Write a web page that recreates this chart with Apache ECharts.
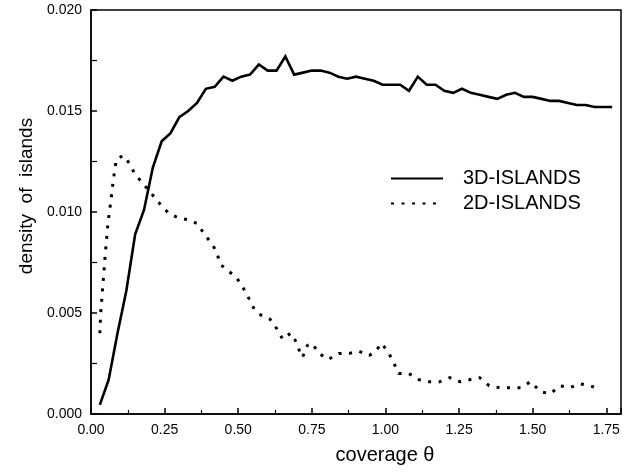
<!DOCTYPE html>
<html>
<head>
<meta charset="utf-8">
<script src="https://cdn.jsdelivr.net/npm/echarts@6/dist/echarts.min.js"></script>
<style>html,body{margin:0;padding:0;background:#fff;}#c{width:641px;height:472px;}</style>
</head>
<body>
<div id="c"></div>
<script>
// 3D islands: coverage values and densities
const cov3D = [0.03,0.06,0.09,0.12,0.15,0.18,0.21,0.24,0.27,0.30,0.33,0.36,0.39,0.42,0.45,0.48,0.51,0.54,0.57,0.60,
  0.63,0.66,0.69,0.72,0.75,0.78,0.81,0.84,0.87,0.90,0.93,0.96,0.99,1.02,1.05,1.08,1.11,1.14,1.17,1.20,
  1.23,1.26,1.29,1.32,1.35,1.38,1.41,1.44,1.47,1.50,1.53,1.56,1.59,1.62,1.65,1.68,1.71,1.74,1.77];
const dens3D = [0.00045,0.0017,0.0040,0.0061,0.0089,0.0101,0.0122,0.0135,0.0139,0.0147,0.0150,0.0154,0.0161,0.0162,0.0167,0.0165,0.0167,0.0168,0.0173,0.0170,
  0.0170,0.0177,0.0168,0.0169,0.0170,0.0170,0.0169,0.0167,0.0166,0.0167,0.0166,0.0165,0.0163,0.0163,0.0163,0.0160,0.0167,0.0163,0.0163,0.0160,
  0.0159,0.0161,0.0159,0.0158,0.0157,0.0156,0.0158,0.0159,0.0157,0.0157,0.0156,0.0155,0.0155,0.0154,0.0153,0.0153,0.0152,0.0152,0.0152];
// 2D islands
const cov2D = [0.030,0.033,0.041,0.049,0.058,0.067,0.075,0.086,0.109,0.131,0.148,0.177,0.206,0.234,0.266,0.300,0.336,0.364,0.384,0.413,
  0.429,0.440,0.464,0.492,0.515,0.537,0.554,0.577,0.608,0.632,0.651,0.678,0.692,0.706,0.718,0.735,0.751,0.774,0.806,0.842,
  0.877,0.911,0.945,0.966,0.987,1.012,1.029,1.045,1.080,1.114,1.148,1.185,1.219,1.253,1.286,1.320,1.352,1.388,1.425,1.459,
  1.493,1.527,1.560,1.592,1.626,1.660,1.696,1.730];
const dens2D = [0.0040,0.0050,0.0065,0.0080,0.0095,0.0105,0.0115,0.0126,0.0128,0.0124,0.0119,0.0114,0.0109,0.0104,0.0099,0.0097,0.0096,0.0094,0.0089,0.0084,
  0.0079,0.0074,0.0071,0.0068,0.0063,0.0057,0.0052,0.0049,0.0047,0.0042,0.0037,0.0040,0.0037,0.0032,0.0028,0.0034,0.0035,0.0030,0.0027,0.0030,
  0.0030,0.0031,0.0029,0.0031,0.0035,0.0030,0.0025,0.0020,0.0020,0.0017,0.0016,0.0016,0.0018,0.0016,0.0017,0.0018,0.0014,0.0013,0.0013,0.0013,
  0.0016,0.0011,0.0010,0.0014,0.0013,0.0015,0.0014,0.0012];
const seriesNames = ['3D-ISLANDS','2D-ISLANDS'];
const xTitle = 'coverage θ';
const yTitle = 'density  of  islands';

const FONT = '"Liberation Sans", Arial, Helvetica, sans-serif';
const chart = echarts.init(document.getElementById('c'), null, {renderer:'canvas'});
chart.setOption({
  animation:false,
  backgroundColor:'#fff',
  grid:{left:91, top:10, right:20, bottom:58, show:true, borderColor:'#000', borderWidth:1.5, backgroundColor:'transparent'},
  legend:{
    show:true, orient:'vertical', left:390, top:168.5, padding:0, itemWidth:52, itemHeight:14, itemGap:5,
    itemStyle:{color:'transparent', borderColor:'transparent', borderWidth:0, opacity:0},
    textStyle:{fontFamily:FONT, fontSize:20, color:'#000', padding:[0,0,0,15]},
    data:seriesNames
  },
  xAxis:{
    type:'value', min:0, max:1.8, interval:0.25,
    name:xTitle, nameLocation:'middle', nameGap:31,
    nameTextStyle:{fontFamily:FONT, fontSize:20, color:'#000', padding:[0,0,0,58]},
    axisLine:{show:true, lineStyle:{color:'#000', width:1.5}},
    axisTick:{show:true, inside:true, length:6, lineStyle:{color:'#000', width:1.5}},
    minorTick:{show:true, splitNumber:2, length:4, lineStyle:{color:'#000', width:1.2}},
    splitLine:{show:false},
    axisLabel:{fontFamily:FONT, fontSize:14, color:'#000', margin:9, showMaxLabel:false,
      formatter:v=>v.toFixed(2)}
  },
  yAxis:{
    type:'value', min:0, max:0.02, interval:0.005,
    name:yTitle, nameLocation:'middle', nameGap:54,
    nameTextStyle:{fontFamily:FONT, fontSize:19, color:'#000', padding:[0,0,0,32]},
    axisLine:{show:true, lineStyle:{color:'#000', width:1.5}},
    axisTick:{show:true, inside:true, length:6, lineStyle:{color:'#000', width:1.5}},
    minorTick:{show:true, splitNumber:2, length:6, lineStyle:{color:'#000', width:1.2}},
    splitLine:{show:false},
    axisLabel:{fontFamily:FONT, fontSize:14, color:'#000', margin:9,
      formatter:v=>v.toFixed(3)}
  },
  series:[
    {name:seriesNames[0], type:'line', symbol:'none', showSymbol:false,
     data:cov3D.map((x,i)=>[x,dens3D[i]]),
     lineStyle:{color:'#000', width:2.6, join:'miter'}, itemStyle:{color:'#000'}},
    {name:seriesNames[1], type:'line', symbol:'none', showSymbol:false,
     data:cov2D.map((x,i)=>[x,dens2D[i]]),
     lineStyle:{color:'#000', width:3, type:[3,7.5], cap:'butt'}, itemStyle:{color:'#000'}}
  ]
});
</script>
</body>
</html>
